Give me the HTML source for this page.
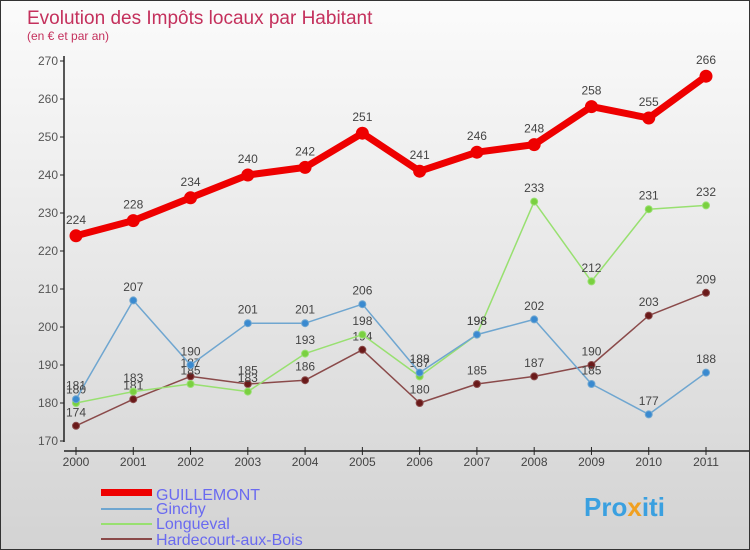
<!DOCTYPE html>
<html><head><meta charset="utf-8"><style>
body{margin:0}
#c{width:750px;height:550px;position:relative;font-family:"Liberation Sans",sans-serif;background:linear-gradient(#fbfbfb,#d3d3d3);border:1px solid #333;box-sizing:border-box;overflow:hidden}
</style></head><body>
<div id="c">
<svg id="s" width="750" height="550" style="position:absolute;left:0;top:0">
<text x="26" y="23" font-size="19" fill="#c4305c">Evolution des Impôts locaux par Habitant</text>
<text x="26" y="39" font-size="12" fill="#c4305c">(en € et par an)</text>
<g id="axes"></g><g id="series"></g>
<g>
<rect x="100" y="488" width="51" height="7" fill="#e00"/>
<text x="155" y="499" font-size="16" fill="#6a6af0">GUILLEMONT</text>
<rect x="100" y="507" width="51" height="2" fill="#6fa6d0"/>
<text x="155" y="513" font-size="16" fill="#6a6af0">Ginchy</text>
<rect x="100" y="522" width="51" height="2" fill="#98e070"/>
<text x="155" y="528" font-size="16" fill="#6a6af0">Longueval</text>
<rect x="100" y="537" width="51" height="2" fill="#8a4a4a"/>
<text x="155" y="544" font-size="16" fill="#6a6af0">Hardecourt-aux-Bois</text>
</g>
<text x="583" y="515" font-size="26" font-weight="bold" fill="#3aa0e0">Pro<tspan fill="#f0a020">x</tspan>iti</text>
</svg>
</div>
<script>
const years=["2000","2001","2002","2003","2004","2005","2006","2007","2008","2009","2010","2011"];
const yTicks=[170,180,190,200,210,220,230,240,250,260,270];
const guillemont=[224,228,234,240,242,251,241,246,248,258,255,266];
const ginchy=[181,207,190,201,201,206,188,198,202,185,177,188];
const longueval=[180,183,185,183,193,198,187,198,233,212,231,232];
const hardecourt=[174,181,187,185,186,194,180,185,187,190,203,209];
const NS="http://www.w3.org/2000/svg";
const xs=i=>75+i*(630/11);
const ys=v=>440-(v-170)*3.8;
function mk(tag,attrs,parent){const e=document.createElementNS(NS,tag);for(const k in attrs)e.setAttribute(k,attrs[k]);parent.appendChild(e);return e;}
const ax=document.getElementById('axes');
let l=mk('line',{x1:63,y1:55,x2:63,y2:441,stroke:'#222','stroke-width':1.5},ax);


l=mk('line',{x1:63,y1:450,x2:750,y2:450,stroke:'#222','stroke-width':1.5},ax);


yTicks.forEach(v=>{
 const t=mk('line',{x1:59,x2:63,y1:ys(v),y2:ys(v),stroke:'#222'},ax);
 
 
 const tx=mk('text',{x:57,y:ys(v)+4,'font-size':12,fill:'#555','text-anchor':'end'},ax);
 tx.textContent=v;
 
 
});
years.forEach((y,i)=>{
 const t=mk('line',{x1:xs(i),x2:xs(i),y1:446,y2:454,stroke:'#222'},ax);
 
 
 const tx=mk('text',{x:xs(i),y:465,'font-size':12,fill:'#444','text-anchor':'middle'},ax);
 tx.textContent=y;
 
 
});
const sg=document.getElementById('series');
function draw(data,name,color,dot,w,r){
 const g=mk('g',{},sg);
 
 
 const p=mk('polyline',{points:data.map((v,i)=>xs(i)+','+ys(v)).join(' '),fill:'none',stroke:color,'stroke-width':w,'stroke-linejoin':'round'},g);
 
 
 data.forEach((v,i)=>{
  const c=mk('circle',{cx:xs(i),cy:ys(v),r:r,fill:dot,stroke:color,'stroke-width':1},g);
  
  
  const t=mk('text',{x:xs(i),y:ys(v)-(r+6),'font-size':12,fill:'#444','text-anchor':'middle'},g);
  t.textContent=v;
  
  
 });
}
draw(hardecourt,'hardecourt','#8a4a4a','#6a1a1a',1.5,3.5);
draw(longueval,'longueval','#98e070','#7ad040',1.5,3.5);
draw(ginchy,'ginchy','#6fa6d0','#3a8ad0',1.5,3.5);
draw(guillemont,'guillemont','#ee0000','#ee0000',7,6);
</script>
</body></html>
